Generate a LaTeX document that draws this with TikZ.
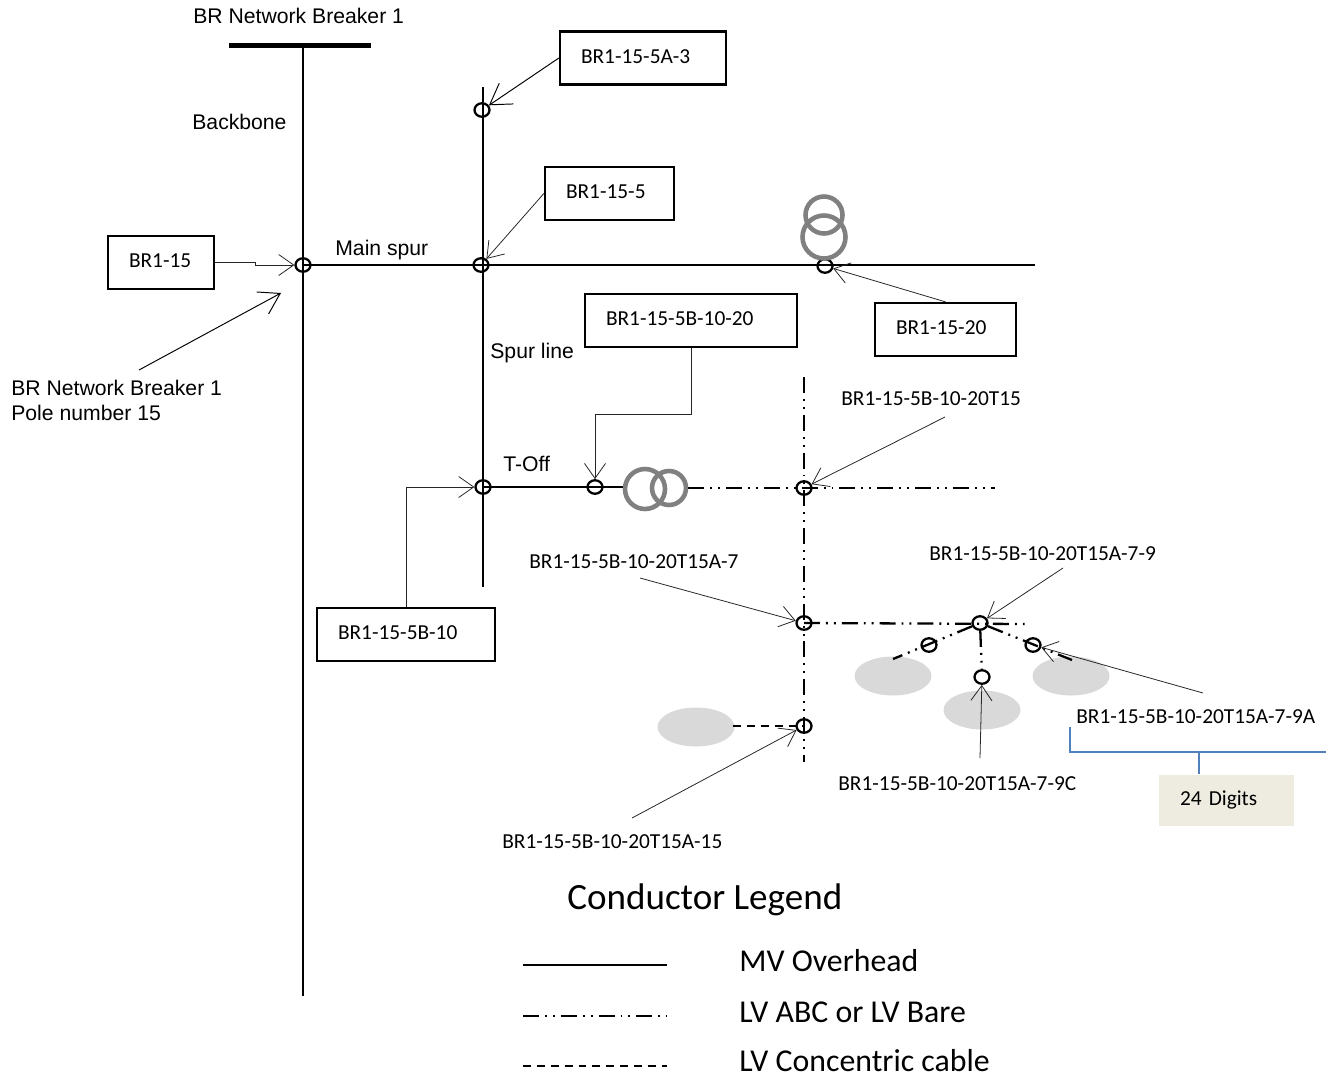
\documentclass[tikz,border=0pt]{standalone}
\usepackage{fontspec}
\setmainfont{Carlito}
\newfontfamily\arialfont{Liberation Sans}
\usetikzlibrary{calc,arrows.meta,shapes.geometric}
\definecolor{ringGray}{RGB}{128,128,128}
\definecolor{loadGray}{RGB}{217,217,217}
\definecolor{bracketBlue}{RGB}{79,129,189}
\definecolor{digitsTan}{RGB}{238,236,225}
\tikzset{
  idbox/.style={draw=black,line width=1.3pt,minimum height=1.06cm,inner xsep=0.42cm,inner ysep=0pt,align=left,text height=8pt,text depth=2.2pt,font=\fontsize{12.15}{13}\selectfont},
  idlabel/.style={anchor=west,inner sep=0pt,yshift=-0.02cm,font=\fontsize{12.15}{13}\selectfont},
  armlabel/.style={anchor=west,inner sep=0pt,font=\arialfont\fontsize{12.05}{14.2}\selectfont},
  legendtext/.style={anchor=west,inner sep=0pt,font=\fontsize{18.1}{20}\selectfont},
  junction/.style={ellipse,draw=black,line width=1.3pt,minimum width=0.30cm,minimum height=0.27cm,inner sep=0pt},
  ring/.style={circle,draw=ringGray,line width=2.6pt,inner sep=0pt},
  load/.style={ellipse,fill=loadGray,minimum width=1.54cm,minimum height=0.78cm,inner sep=0pt},
  mvline/.style={line width=1.2pt,draw=black},
  abcline/.style={line width=1.3pt,draw=black,dash pattern=on 9.1pt off 3.4pt on 1.1pt off 3.4pt on 1.1pt off 3.4pt},
  concline/.style={line width=1.2pt,draw=black,dash pattern=on 4.5pt off 3.4pt},
  pointer/.style={line width=0.45pt,draw=black!85,-{Straight Barb[length=0.3cm,width=0.42cm]}},
  bigpointer/.style={line width=0.55pt,draw=black,-{Straight Barb[length=0.4cm,width=0.5cm]}},
  bracket/.style={draw=bracketBlue,line width=1.1pt}
}
\begin{document}
\begin{tikzpicture}[x=1cm,y=1cm]
\path[use as bounding box] (0,0) rectangle (26.52,-21.52);

\node[load] (loadJ) at (17.86,-13.52) {};
\node[load] (loadK) at (21.42,-13.52) {};
\node[load] (loadL) at (19.64,-14.20) {};
\node[load] (loadM) at (13.92,-14.54) {};

\node[fill=black,minimum width=2.84cm,minimum height=0.10cm,inner sep=0pt] (bar) at (6.00,-0.90) {};
\node[armlabel] (lBar) at (3.86,-0.32) {BR Network Breaker 1};
\node[armlabel] (lBackbone) at (3.84,-2.44) {Backbone};
\node[armlabel] (lMain) at (6.70,-5.00) {Main spur};
\node[armlabel] (lSpur) at (9.80,-7.06) {Spur line};
\node[armlabel] (lTOff) at (10.06,-9.28) {T-Off};
\node[armlabel,anchor=north west,align=left] (lPole) at (0.22,-7.60) {BR Network Breaker 1\\Pole number 15};

\node[junction] (jA) at (6.06,-5.30) {};
\node[junction] (jB) at (9.62,-5.30) {};
\node[junction] (jC) at (9.64,-2.20) {};
\node[junction] (jD) at (16.50,-5.32) {};
\node[junction] (jE) at (9.66,-9.74) {};
\node[junction] (jF) at (11.90,-9.74) {};
\node[junction] (jG) at (16.08,-9.76) {};
\node[junction] (jH) at (16.08,-12.46) {};
\node[junction] (jI) at (19.60,-12.46) {};
\node[junction] (jJ) at (18.58,-12.90) {};
\node[junction] (jK) at (20.66,-12.90) {};
\node[junction] (jL) at (19.64,-13.54) {};
\node[junction] (jM) at (16.08,-14.52) {};

\node[ring,minimum size=0.74cm] (ringA) at (16.48,-4.30) {};
\node[ring,minimum size=0.86cm] (ringB) at (16.48,-4.74) {};
\node[ring,minimum size=0.80cm] (ringC) at (12.90,-9.78) {};
\node[ring,minimum size=0.68cm] (ringD) at (13.38,-9.76) {};

\node[idbox,text width=2.48cm,minimum width=3.32cm] (b5A3) at (12.86,-1.16) {BR1-15-5A-3};
\node[idbox,text width=1.74cm,minimum width=2.58cm] (b5) at (12.19,-3.87) {BR1-15-5};
\node[idbox,text width=1.28cm,minimum width=2.12cm] (b15) at (3.22,-5.25) {BR1-15};
\node[idbox,text width=3.40cm,minimum width=4.24cm] (b5B20) at (13.82,-6.41) {BR1-15-5B-10-20};
\node[idbox,text width=1.98cm,minimum width=2.82cm] (b20) at (18.91,-6.59) {BR1-15-20};
\node[idbox,text width=2.72cm,minimum width=3.56cm] (b5B10) at (8.12,-12.69) {BR1-15-5B-10};

\node[idlabel] (lT15) at (16.82,-7.96) {BR1-15-5B-10-20T15};
\node[idlabel] (l7) at (10.58,-11.22) {BR1-15-5B-10-20T15A-7};
\node[idlabel] (l79) at (18.58,-11.06) {BR1-15-5B-10-20T15A-7-9};
\node[idlabel] (l79A) at (21.52,-14.32) {BR1-15-5B-10-20T15A-7-9A};
\node[idlabel] (l79C) at (16.76,-15.66) {BR1-15-5B-10-20T15A-7-9C};
\node[idlabel] (l15) at (10.04,-16.82) {BR1-15-5B-10-20T15A-15};

\node[idbox,draw=none,fill=digitsTan,text width=1.86cm,minimum width=2.70cm,minimum height=1.02cm] (digits) at (24.53,-16.01) {24 Digits};

\node[anchor=west,inner sep=0pt,font=\fontsize{21.1}{24}\selectfont] (legendTitle) at (11.34,-18.00) {Conductor Legend};
\node[legendtext] (lgMV) at (14.78,-19.22) {MV Overhead};
\node[legendtext] (lgABC) at (14.78,-20.24) {LV ABC or LV Bare};
\node[legendtext] (lgConc) at (14.78,-21.22) {LV Concentric cable};

\coordinate (backboneEnd) at (6.06,-19.92);
\coordinate (mainEnd) at (20.70,-5.30);
\coordinate (spurTop) at (9.66,-1.74);
\coordinate (spurEnd) at (9.66,-11.74);
\coordinate (abcEnd) at (19.90,-9.76);
\coordinate (abcTop) at (16.08,-7.54);
\coordinate (abcBottom) at (16.08,-15.24);
\coordinate (branchEnd) at (20.60,-12.48);
\coordinate (legJ) at (17.86,-13.18);
\coordinate (legK) at (21.44,-13.20);
\coordinate (legM) at (14.66,-14.52);

\draw[mvline] (jA |- bar.center) -- (backboneEnd);
\draw[mvline] (jA.center) -- (mainEnd);
\draw[mvline] (spurTop) -- (spurEnd);
\draw[mvline] (jE.center) -- (jE.center -| ringC.west);
\draw[abcline] (ringD.east) -- (abcEnd);
\draw[abcline] (abcTop) -- (abcBottom);
\draw[abcline] (jH.center) -- (branchEnd);
\draw[abcline] (jI) -- (legJ);
\draw[abcline] (jI) -- (jL);
\draw[abcline] (jI) -- (legK);
\draw[concline] (legM) -- (jM.center);

\coordinate (arrowPole) at (2.78,-7.40);
\coordinate (arrowPoleTip) at (5.62,-5.86);
\coordinate (fromT15) at (18.90,-8.34);
\coordinate (from7) at (12.80,-11.56);
\coordinate (from79) at (21.26,-11.36);
\coordinate (from79A) at (24.06,-13.86);
\coordinate (from79C) at (19.60,-15.16);
\coordinate (from15) at (12.64,-16.36);

\draw[bigpointer] (b5A3.west) -- (jC);
\draw[pointer] (b5.west) -- (jB);
\draw[pointer] (b15.east) -- ++(0.80,0) |- (jA.west);
\draw[pointer] (b20.north) -- (jD);
\draw[pointer] (b5B20.south) -- ++(0,-1.32) -| (jF.north);
\draw[pointer] (b5B10.north) |- (jE.west);
\draw[bigpointer] (arrowPole) -- (arrowPoleTip);
\draw[pointer] (fromT15) -- (jG);
\draw[pointer] (from7) -- (jH);
\draw[pointer] (from79) -- (jI);
\draw[pointer] (from79A) -- (jK);
\draw[pointer] (from79C) -- (jL);
\draw[pointer] (from15) -- (jM);

\coordinate (brLeft) at (21.40,-14.54);
\coordinate (brRight) at (26.52,-15.04);
\coordinate (brStem) at (23.98,-15.04);
\draw[bracket] (brLeft) |- (brRight);
\draw[bracket] (brStem) -- (brStem |- digits.north);

\coordinate (lgMVa) at (10.46,-19.30);
\coordinate (lgMVb) at (13.34,-19.30);
\coordinate (lgABCa) at (10.46,-20.32);
\coordinate (lgABCb) at (13.34,-20.32);
\coordinate (lgConca) at (10.46,-21.32);
\coordinate (lgConcb) at (13.34,-21.32);
\draw[mvline] (lgMVa) -- (lgMVb);
\draw[abcline] (lgABCa) -- (lgABCb);
\draw[concline] (lgConca) -- (lgConcb);
\end{tikzpicture}
\end{document}
